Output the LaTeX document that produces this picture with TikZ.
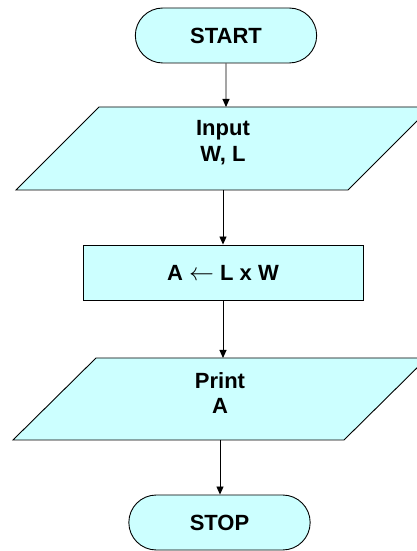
\documentclass[tikz,border=0pt]{standalone}
\usepackage{fontspec}
\setmainfont{Liberation Sans}
\usetikzlibrary{shapes.misc,arrows.meta}
\definecolor{boxfill}{HTML}{CCFFFF}
\tikzset{
  term/.style={draw,rounded rectangle,fill=boxfill,minimum width=188pt,minimum height=55pt},
  iobox/.style={draw,fill=boxfill},
  iotext/.style={align=center,inner sep=0pt},
  proc/.style={draw,rectangle,fill=boxfill,minimum width=280pt,minimum height=55pt},
  flow/.style={-{Triangle[length=8pt,width=7pt]}}
}
\begin{document}
\begin{tikzpicture}[x=1pt,y=1pt,line width=0.9pt,every node/.style={font=\fontsize{22}{25.7}\selectfont\bfseries}]
\useasboundingbox (0,0) rectangle (417,551);
\node[term] (start) at (226,515.5) {START};
% input parallelogram
\coordinate (inputc) at (223,402.5);
\filldraw[iobox] ([shift={(-207,-41.5)}]inputc) -- ++(332,0) -- ++(83,83) -- ++(-332,0) -- cycle;
\coordinate (inputtop) at ([yshift=41.5]inputc);
\coordinate (inputbot) at ([yshift=-41.5]inputc);
\node[iotext] (input) at ([yshift=6]inputc) {Input\\W, L};
\node[proc] (area) at (223,278.5) {A {\fontsize{27}{27}\selectfont$\leftarrow$} L x W};
% print parallelogram
\coordinate (printc) at (220,152);
\filldraw[iobox] ([shift={(-207,-41)}]printc) -- ++(331,0) -- ++(83,82) -- ++(-331,0) -- cycle;
\coordinate (printtop) at ([yshift=41]printc);
\coordinate (printbot) at ([yshift=-41]printc);
\node[iotext] (print) at ([yshift=6]printc) {Print\\A};
\node[term] (stop) at (219.5,28.5) {STOP};
\draw[flow] (start) -- (start |- inputtop);
\draw[flow] (inputbot) -- (inputbot |- area.north);
\draw[flow] (area) -- (area |- printtop);
\draw[flow] (printbot) -- (printbot |- stop.north);
\end{tikzpicture}
\end{document}
